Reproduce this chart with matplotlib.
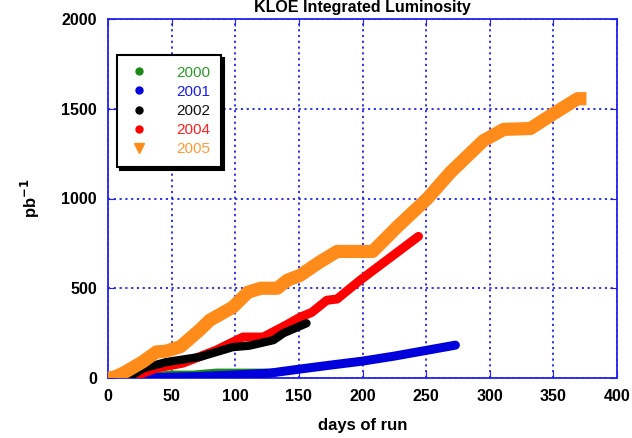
import matplotlib
matplotlib.use("Agg")
import matplotlib.pyplot as plt
from matplotlib.lines import Line2D

plt.rcParams['font.family'] = ['Liberation Sans', 'DejaVu Sans']

# days of run vs integrated luminosity (pb^-1)
d00 = [20, 35, 50, 67, 85, 110, 133]
l00 = [0, 12, 22, 22, 33, 33, 33]

d01 = [8, 40, 70, 100, 127, 151, 175, 200, 225, 251, 273]
l01 = [0, 3, 8, 17, 27, 50, 72, 94, 122, 155, 183]

d02 = [10, 20, 28, 46, 72, 98, 111, 130, 138, 156]
l02 = [0, 20, 55, 89, 117, 172, 180, 211, 250, 305]

d04 = [15, 25, 38, 59, 85, 106, 122, 140, 151, 160, 172, 180, 198, 219, 244]
l04 = [0, 20, 55, 83, 155, 228, 228, 295, 339, 365, 433, 440, 544, 656, 789]

d05 = [0, 5, 12, 27, 38, 46, 57, 72, 80, 98, 110, 120, 133, 141, 151, 165,
       180, 208, 227, 251, 269, 295, 311, 332, 350, 369, 376]
l05 = [0, 5, 27, 89, 145, 150, 175, 267, 322, 394, 478, 500, 500, 545, 572,
       640, 705, 705, 840, 1000, 1145, 1322, 1385, 1390, 1472, 1556, 1556]

years = ['2000', '2001', '2002', '2004', '2005']
colors = ['#1a8a1a', '#0000dd', '#000000', '#ff0000', '#ff8c1a']
text_colors = ['#2a9a2a', '#1a1aee', '#111111', '#ff2020', '#ff9933']

blue = '#2222ee'

fig = plt.figure(figsize=(6.32, 4.38), dpi=100)
ax = fig.add_axes([108 / 632, 1 - 378 / 438, 509 / 632, 359 / 438])

ax.plot(d00, l00, color=colors[0], lw=5, solid_capstyle='round', zorder=3)
ax.plot(d01, l01, color=colors[1], lw=6.5, solid_capstyle='round', zorder=4)
ax.plot(d04, l04, color=colors[3], lw=6.5, solid_capstyle='round', zorder=5)
ax.plot(d02, l02, color=colors[2], lw=6, solid_capstyle='round', zorder=6)
ax.plot(d05, l05, color=colors[4], lw=9.5, solid_capstyle='butt', zorder=7)

ax.set_xlim(0, 400)
ax.set_ylim(0, 2000)
ax.set_xticks(range(0, 401, 50))
ax.set_yticks(range(0, 2001, 500))
ax.grid(True, color=blue, ls=(0, (1.2, 2)), lw=1.3)
for s in ax.spines.values():
    s.set_color(blue)
    s.set_linewidth(1.3)
ax.tick_params(direction='in', colors=blue, labelcolor='black', length=5,
               top=True, right=True, labelsize=11.5, pad=8)
for lab in ax.get_xticklabels() + ax.get_yticklabels():
    lab.set_fontweight('bold')

ax.set_xlabel('days of run', fontsize=12, fontweight='bold', labelpad=10)
ax.set_ylabel('pb$^{\\mathbf{-1}}$', fontsize=12, fontweight='bold', labelpad=14)

fig.text(362 / 632, 1.0, 'KLOE Integrated Luminosity', ha='center',
         va='top', fontsize=11.5, fontweight='bold')

handles = [Line2D([], [], ls='none', marker='o', ms=5, color=c) for c in colors[:4]]
handles.append(Line2D([], [], ls='none', marker='v', ms=7, color=colors[4]))
leg = ax.legend(handles, years, loc='upper left', bbox_to_anchor=(0.018, 0.9),
                fontsize=11, frameon=True, fancybox=False, edgecolor='black',
                labelcolor=text_colors, handlelength=1.5, handletextpad=1.7,
                labelspacing=0.34, borderpad=0.7, borderaxespad=0,
                shadow={'color': 'black', 'alpha': 1, 'ox': 2, 'oy': -2})
leg.get_frame().set_linewidth(1.5)
leg.set_zorder(10)

fig.savefig('out.png', dpi=100)
